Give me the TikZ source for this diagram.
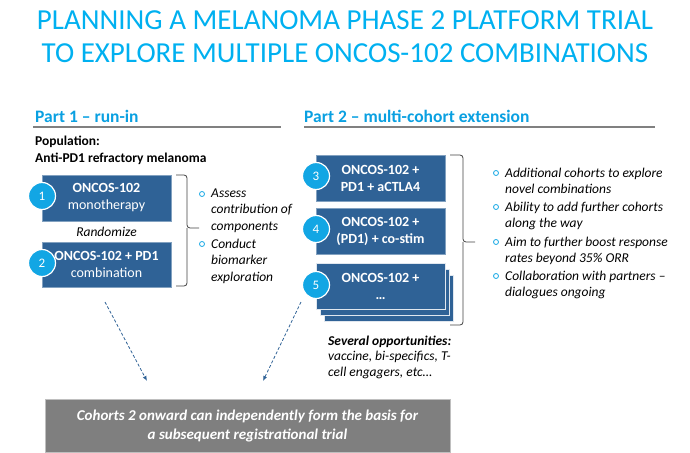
\documentclass[tikz,border=0pt]{standalone}
\usepackage{fontspec}
\setmainfont{Carlito}
\usetikzlibrary{arrows.meta,positioning}

\definecolor{titlecyan}{RGB}{0,176,240}
\definecolor{headcyan}{RGB}{10,160,225}
\definecolor{boxblue}{RGB}{47,98,150}
\definecolor{numcyan}{RGB}{18,166,228}
\definecolor{rulegray}{RGB}{128,128,128}
\definecolor{notegray}{RGB}{127,127,127}

\begin{document}
\begin{tikzpicture}[
  x=1pt,y=-1pt,
  box/.style={draw=boxblue!60!white,fill=boxblue,minimum width=129pt,minimum height=46pt,
    inner sep=0pt,align=center,text=white,font=\fontsize{14}{17}\selectfont},
  num/.style={circle,draw=white,line width=1.2pt,fill=numcyan,minimum size=27pt,
    inner sep=0pt,text=white,font=\fontsize{13}{13}\selectfont},
  head/.style={anchor=base west,inner sep=0pt,text=headcyan,font=\fontsize{17.5}{20}\selectfont\bfseries},
  body/.style={anchor=north west,inner sep=0pt,align=left,font=\fontsize{13.5}{16.5}\selectfont\itshape},
  dot/.style={circle,draw=numcyan,line width=0.8pt,minimum size=5pt,inner sep=0pt},
  brc/.style={draw=black!75,line width=0.8pt,rounded corners=3pt},
  arr/.style={-{Latex[length=5pt,width=4pt]},boxblue,densely dashed,line width=0.8pt}
]
\useasboundingbox (0,0) rectangle (690,452);

% title
\node[align=center,text=titlecyan,font=\fontsize{29}{33}\selectfont] (title) at (345,37)
  {PLANNING A MELANOMA PHASE 2 PLATFORM TRIAL\\TO EXPLORE MULTIPLE ONCOS-102 COMBINATIONS};

% part 1
\node[head] (p1) at (35,122) {Part 1 \textendash{} run-in};
\draw[rulegray,line width=1.2pt] (33,127) -- (281,127);
\node[anchor=north west,inner sep=0pt,align=left,font=\fontsize{13.5}{17}\selectfont\bfseries] (pop) at (35,136)
  {Population:\\Anti-PD1 refractory melanoma};

\node[box] (box1) at (106.5,198) {\textbf{ONCOS-102}\\monotherapy};
\node[font=\fontsize{13.5}{13.5}\selectfont\itshape] (rand) at (106.5,232) {Randomize};
\node[box,minimum height=45pt] (box2) at (106.5,264.5) {\textbf{ONCOS-102 + PD1}\\combination};
\node[num] (n1) at (42,196) {1};
\node[num] (n2) at (42,263) {2};

\draw[brc] (176,175) -- (187,175) -- (187,228) -- (199,228);
\draw[brc] (187,228) -- (187,286) -- (176,286);

\node[dot] (d1) at (202,194) {};
\node[body] (t1) at (211,188.5) {Assess\\contribution of\\components};
\node[dot] (d2) at (202,244) {};
\node[body] (t2) at (211,238.5) {Conduct\\biomarker\\exploration};

% part 2
\node[head] (p2) at (304,122) {Part 2 \textendash{} multi-cohort extension};
\draw[rulegray,line width=1.2pt] (304,127) -- (655,127);

\node[box] (box3) at (380.5,178) {\textbf{ONCOS-102 +}\\\textbf{PD1 + aCTLA4}};
\node[box] (box4) at (380.5,231) {\textbf{ONCOS-102 +}\\\textbf{(PD1) + co-stim}};
\node[box,draw=white!85!boxblue,line width=0.8pt] (box5c) at (388.5,298) {};
\node[box,draw=white!85!boxblue,line width=0.8pt] (box5b) at (384.5,292) {};
\node[box,draw=white!85!boxblue,line width=0.8pt] (box5) at (380.5,286) {\textbf{ONCOS-102 +}\\\textbf{…}};
\node[num] (n3) at (316,176) {3};
\node[num] (n4) at (316,229) {4};
\node[num] (n5) at (316,285) {5};

\draw[brc] (450,155) -- (463,155) -- (463,242) -- (475,242);
\draw[brc] (463,242) -- (463,325) -- (450,325);

\node[dot] (d3) at (496,173) {};
\node[body] (t3) at (505,167.5) {Additional cohorts to explore\\novel combinations};
\node[dot] (d4) at (496,207) {};
\node[body] (t4) at (505,201.5) {Ability to add further cohorts\\along the way};
\node[dot] (d5) at (496,242) {};
\node[body] (t5) at (505,236.5) {Aim to further boost response\\rates beyond 35\% ORR};
\node[dot] (d6) at (496,276) {};
\node[body] (t6) at (505,270.5) {Collaboration with partners \textendash\\dialogues ongoing};

\node[body,font=\fontsize{13.5}{15.5}\selectfont\itshape] (opp) at (328,335.5)
  {\textbf{Several opportunities:}\\vaccine, bi-specifics, T-\\cell engagers, etc…};

% bottom note
\coordinate (a1s) at (105,302);
\coordinate (a1e) at (147,381);
\coordinate (a2s) at (301,302);
\coordinate (a2e) at (263,381);
\draw[arr] (a1s) -- (a1e);
\draw[arr] (a2s) -- (a2e);

\node[draw=black!25,line width=1pt,fill=notegray,minimum width=405pt,minimum height=53pt,
  inner sep=0pt,align=center,text=white,font=\fontsize{15}{19}\selectfont\bfseries\itshape] (note) at (247.5,425.5)
  {Cohorts 2 onward can independently form the basis for\\a subsequent registrational trial};
\end{tikzpicture}
\end{document}
